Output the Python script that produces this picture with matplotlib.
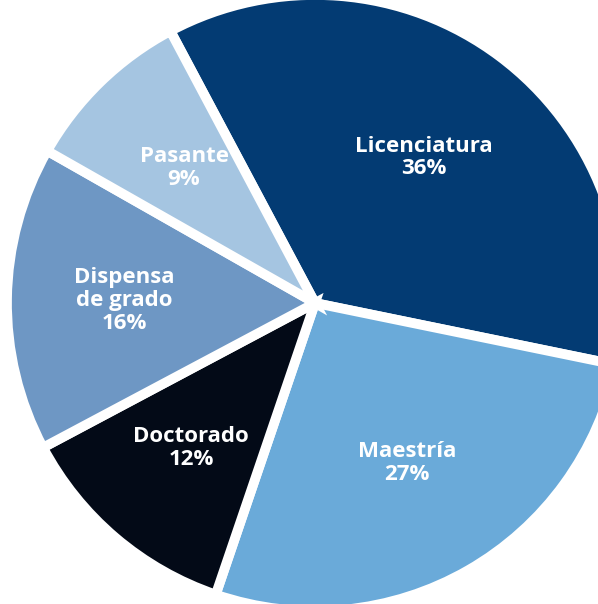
import matplotlib
matplotlib.use("Agg")
import matplotlib.pyplot as plt
import numpy as np

# Distribution by degree level (percent)
labels = ["Licenciatura", "Maestría", "Doctorado", "Dispensa\nde grado", "Pasante"]
values = [36, 27, 12, 16, 9]
colors = ["#033b73", "#6aaad9", "#030a17", "#6e97c4", "#a5c5e1"]

# how far from the centre each label sits (fraction of radius)
label_dist = [0.59, 0.60, 0.62, 0.62, 0.61]

W, H = 598, 604
fig = plt.figure(figsize=(W / 100, H / 100), dpi=100)
fig.patch.set_facecolor("white")

# pie centre and radius in pixels
cx, cy, r = 315, 303, 308
ax = fig.add_axes([(cx - r) / W, (H - cy - r) / H, 2 * r / W, 2 * r / H])

wedges, _ = ax.pie(
    values,
    colors=colors,
    startangle=118,
    counterclock=False,
    radius=1.0,
    wedgeprops=dict(edgecolor="white", linewidth=7),
)
# pie() resets the limits, so put them back
ax.set_xlim(-1, 1)
ax.set_ylim(-1, 1)
ax.axis("off")

for w, lab, v, d in zip(wedges, labels, values, label_dist):
    mid = np.deg2rad((w.theta1 + w.theta2) / 2)
    ax.text(d * np.cos(mid), d * np.sin(mid), f"{lab}\n{v}%",
            ha="center", va="center", color="white",
            fontsize=16, fontweight="bold", family="Open Sans",
            linespacing=1.12)

fig.savefig("out.png", dpi=100)
